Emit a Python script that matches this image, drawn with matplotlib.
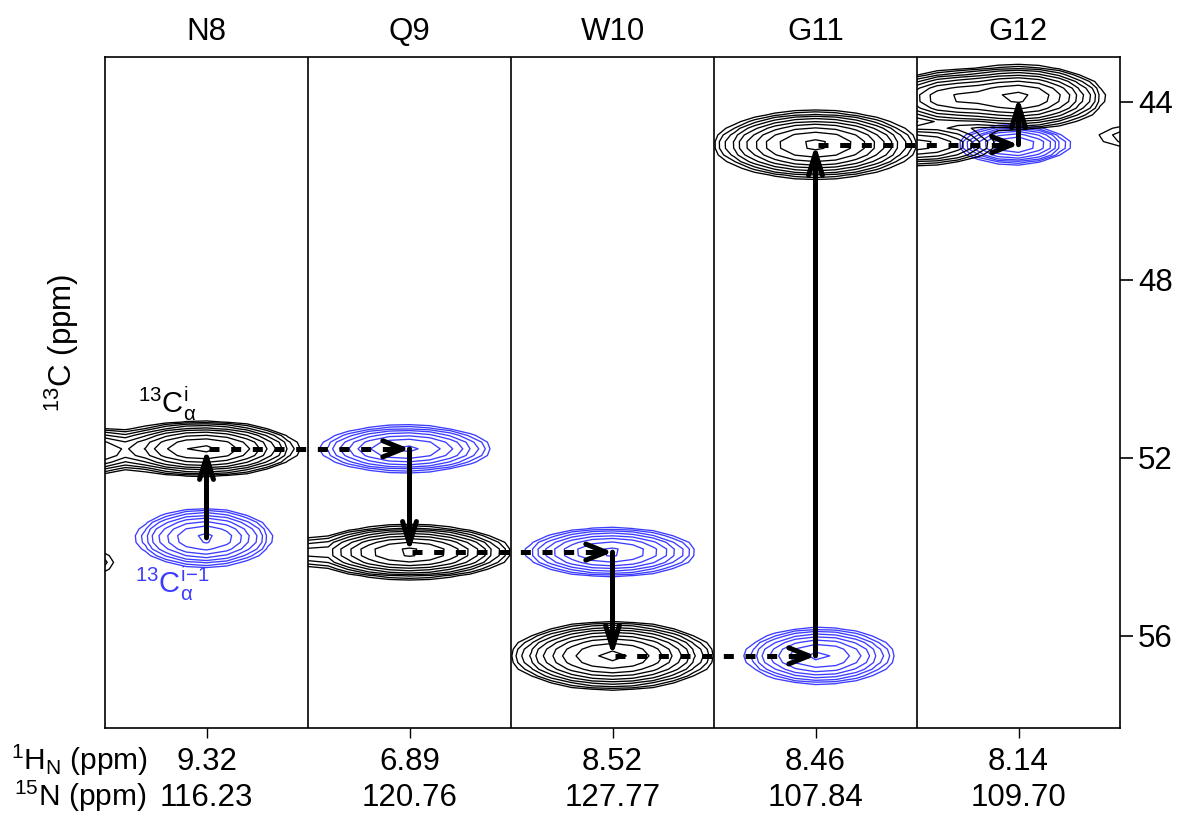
import numpy as np
import matplotlib
matplotlib.use('Agg')
import matplotlib.pyplot as plt
from matplotlib.transforms import blended_transform_factory

plt.rcParams['font.family'] = ['Liberation Sans', 'DejaVu Sans']
plt.rcParams['mathtext.fontset'] = 'custom'
plt.rcParams['mathtext.rm'] = 'Liberation Sans'
plt.rcParams['mathtext.it'] = 'Liberation Sans:italic'
plt.rcParams['mathtext.bf'] = 'Liberation Sans:bold'
plt.rcParams['lines.scale_dashes'] = False

# ---------------- data ----------------
residues = ['N8', 'Q9', 'W10', 'G11', 'G12']
h_ppm = ['9.32', '6.89', '8.52', '8.46', '8.14']
n_ppm = ['116.23', '120.76', '127.77', '107.84', '109.70']
ca_i = [51.80, 54.12, 56.45, 44.97, 43.90]      # black peaks (13C alpha i)
ca_im1 = [53.80, 51.80, 54.12, 56.45, 44.97]    # blue peaks (13C alpha i-1)
c_ticks = [44, 48, 52, 56]

# peak shapes: strip, colour, x offset in strip, 13C ppm, width x, width y, amplitude
pk_strip = [0, 0, 0, 0, 1, 1, 1, 2, 2, 3, 3, 4, 4, 4, 4, 4]
pk_color = ['k', 'k', 'b', 'k', 'b', 'k', 'k', 'b', 'k', 'b', 'k', 'k', 'k', 'b', 'k', 'k']
pk_dx = [-0.02, -0.62, -0.01, -0.62, -0.02, 0.0, -0.65, -0.01, 0.0, 0.02, 0.0, 0.0, -0.36, -0.02, -0.5, 0.53]
pk_y = [51.80, 51.85, 53.80, 54.35, 51.80, 54.12, 54.12, 54.12, 56.45, 56.45, 44.97,
        43.90, 43.92, 44.97, 44.97, 44.79]
pk_sx = [0.19, 0.12, 0.15, 0.10, 0.19, 0.20, 0.10, 0.19, 0.20, 0.165, 0.20, 0.17, 0.13, 0.12, 0.18, 0.13]
pk_sy = [0.25, 0.25, 0.30, 0.22, 0.24, 0.245, 0.20, 0.25, 0.31, 0.29, 0.31, 0.29, 0.26, 0.20, 0.22, 0.22]
pk_amp = [1.0, 0.5, 1.0, 0.15, 1.0, 1.0, 0.3, 1.0, 1.0, 1.0, 1.0, 1.0, 0.55, 1.0, 0.4, 0.08]

BLUE = '#3c3cff'
FS = 22.5

# ---------------- figure ----------------
W, H = 1178, 814
fig = plt.figure(figsize=(W / 100, H / 100), dpi=100)
L, R, T, B = 105, 1120, 57, 728
ax = fig.add_axes([L / W, 1 - B / H, (R - L) / W, (B - T) / H])
ax.set_xlim(0, 5)
ax.set_ylim(58.07, 43.0)

levels = 0.92 * 0.72 ** np.arange(10)
ys = np.arange(42.8, 58.4, 0.15)
for s in range(5):
    xs = np.linspace(s, s + 1, 11)
    X, Y = np.meshgrid(xs, ys)
    for col, nlev, cc in (('b', 8, BLUE), ('k', 10, 'black')):
        Z = np.zeros_like(X)
        for st, c, dx, y0, sx, sy, a in zip(pk_strip, pk_color, pk_dx, pk_y, pk_sx, pk_sy, pk_amp):
            if st == s and c == col:
                Z += a * np.exp(-((X - (s + 0.5 + dx)) ** 2 / (2 * sx ** 2) + (Y - y0) ** 2 / (2 * sy ** 2)))
        ax.contour(X, Y, Z, levels=np.sort(levels[:nlev]), colors=cc, linewidths=0.95, zorder=2)

for s in range(1, 5):
    ax.axvline(s, color='black', lw=1.2, zorder=3)

LW = 3.6
# dashed connections
for s in range(4):
    x0, x1 = s + 0.5, s + 1.5
    y = ca_i[s]
    ax.plot([x0 + 0.01, x1 - 0.06], [y, y], color='black', lw=LW,
            linestyle=(0, (7.2, 8.4)), solid_capstyle='butt', dash_capstyle='butt', zorder=5)
    ax.annotate('', xy=(x1, ca_im1[s + 1]), xytext=(x1 - 0.09, ca_im1[s + 1]),
                arrowprops=dict(arrowstyle='->,head_length=1.44,head_width=0.58', lw=LW,
                                color='black', shrinkA=0, shrinkB=0, mutation_scale=10),
                zorder=5)
# vertical arrows
for s in range(5):
    ax.annotate('', xy=(s + 0.5, ca_i[s]), xytext=(s + 0.5, ca_im1[s]),
                arrowprops=dict(arrowstyle='->,head_length=1.6,head_width=0.5', lw=LW,
                                color='black', shrinkA=0, shrinkB=0, mutation_scale=10),
                zorder=5)

# axes styling
for sp in ax.spines.values():
    sp.set_linewidth(1.2)
ax.yaxis.tick_right()
ax.set_yticks(c_ticks)
ax.set_yticklabels([str(t) for t in c_ticks])
ax.tick_params(axis='y', direction='out', length=9, width=1.2, labelsize=FS, pad=4)
ax.set_xticks([s + 0.5 for s in range(5)])
ax.set_xticklabels([''] * 5)
ax.tick_params(axis='x', direction='out', length=7, width=1.0)

tr = blended_transform_factory(ax.transData, fig.transFigure)
for s in range(5):
    ax.text(s + 0.5, 1 - 32 / H, residues[s], transform=tr, ha='center', va='center', fontsize=FS)
    ax.text(s + 0.5, 1 - 770 / H, h_ppm[s], transform=tr, ha='center', va='baseline', fontsize=FS)
    ax.text(s + 0.5, 1 - 806 / H, n_ppm[s], transform=tr, ha='center', va='baseline', fontsize=FS)

fig.text(11 / W, 1 - 770 / H, r'$^{1}$H$_{\mathrm{N}}$ (ppm)', ha='left', va='baseline', fontsize=21.5)
fig.text(14 / W, 1 - 806 / H, r'$^{15}$N (ppm)', ha='left', va='baseline', fontsize=21.5)
fig.text(62 / W, 1 - 343 / H, r'$^{13}$C (ppm)', rotation=90, ha='center', va='center', fontsize=FS)

ax.text(0.163, 50.99, r'$^{13}$C$_{\mathrm{α}}^{\mathrm{i}}$', ha='left', va='baseline',
        fontsize=21, color='black', zorder=6)
ax.text(0.148, 55.03, r'$^{13}$C$_{\mathrm{α}}^{\mathrm{i\!-\!1}}$', ha='left', va='baseline',
        fontsize=21, color=BLUE, zorder=6)

fig.savefig('out.png', dpi=100)
